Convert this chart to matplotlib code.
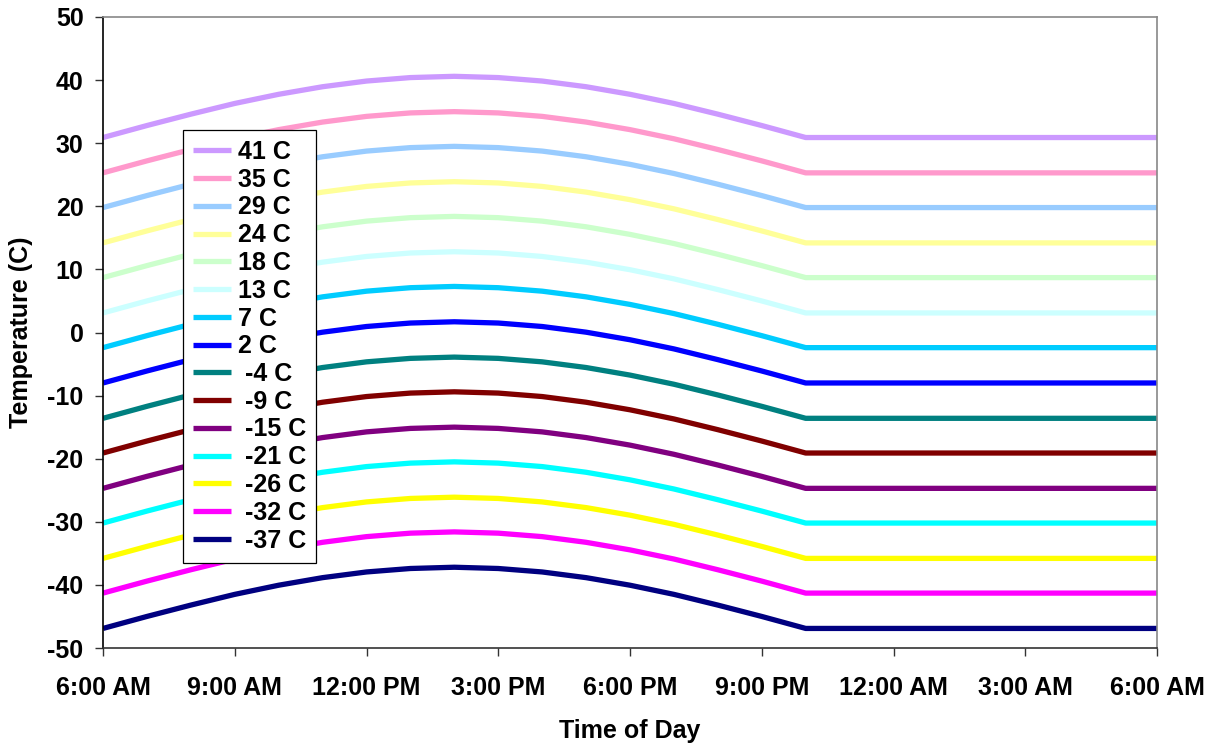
import matplotlib
matplotlib.use("Agg")
import matplotlib.pyplot as plt

plt.rcParams["font.family"] = ["Liberation Sans", "DejaVu Sans"]
plt.rcParams["font.weight"] = "bold"
plt.rcParams["axes.unicode_minus"] = False

# hours after 6:00 AM
hours = list(range(0, 25))
# drop below the daily peak (peak at 2 PM, flat after 10 PM)
drop = [-9.7, -7.8, -6.0, -4.3, -2.85, -1.65, -0.75, -0.2, 0.0,
        -0.2, -0.75, -1.65, -2.85, -4.3, -6.0, -7.8, -9.7,
        -9.7, -9.7, -9.7, -9.7, -9.7, -9.7, -9.7, -9.7]

labels = ["41 C", "35 C", "29 C", "24 C", "18 C", "13 C", "7 C", "2 C",
          " -4 C", " -9 C", " -15 C", " -21 C", " -26 C", " -32 C", " -37 C"]
peaks = [40.6, 35.0, 29.5, 23.9, 18.4, 12.8, 7.3, 1.7,
         -3.9, -9.4, -15.0, -20.5, -26.1, -31.6, -37.2]
colors = ["#CC99FF", "#FF99CC", "#99CCFF", "#FFFF99", "#CCFFCC", "#CCFFFF",
          "#00CCFF", "#0000FF", "#008080", "#800000", "#800080", "#00FFFF",
          "#FFFF00", "#FF00FF", "#000080"]

xticks = [0, 3, 6, 9, 12, 15, 18, 21, 24]
xticklabels = ["6:00 AM", "9:00 AM", "12:00 PM", "3:00 PM", "6:00 PM",
               "9:00 PM", "12:00 AM", "3:00 AM", "6:00 AM"]

fig = plt.figure(figsize=(12.15, 7.46), dpi=100)
ax = fig.add_axes([103 / 1215, 1 - 648 / 746, 1054 / 1215, 631 / 746])

for lab, pk, col in zip(labels, peaks, colors):
    ax.plot(hours, [pk + d for d in drop], color=col, lw=3.8, label=lab,
            solid_joinstyle="round", solid_capstyle="butt")

ax.set_xlim(0, 24)
ax.set_ylim(-50, 50)
ax.set_xticks(xticks)
ax.set_xticklabels(xticklabels)
ax.set_yticks(range(-50, 51, 10))
ax.tick_params(axis="both", direction="out", length=6, width=1,
               labelsize=18, color="#333333")
ax.tick_params(axis="x", pad=14)
ax.tick_params(axis="y", pad=8)
for t in ax.get_xticklabels() + ax.get_yticklabels():
    t.set_fontweight("bold")

ax.spines["left"].set_color("black")
ax.spines["bottom"].set_color("#333333")
ax.spines["top"].set_color("#888888")
ax.spines["right"].set_color("#888888")
for s in ax.spines.values():
    s.set_linewidth(1.2)

ax.set_xlabel("Time of Day", fontsize=18, fontweight="bold", labelpad=14)
ax.set_ylabel("Temperature (C)", fontsize=18, fontweight="bold", labelpad=10)

leg = ax.legend(loc="upper left", bbox_to_anchor=(80 / 1054, 518 / 631),
                borderaxespad=0, fancybox=False, frameon=True,
                edgecolor="black", framealpha=1,
                handlelength=1.5, handletextpad=0.3, labelspacing=0.15,
                borderpad=0.4, prop={"weight": "bold", "size": 18})
leg.get_frame().set_linewidth(0.9)

fig.savefig("out.png", dpi=100)
